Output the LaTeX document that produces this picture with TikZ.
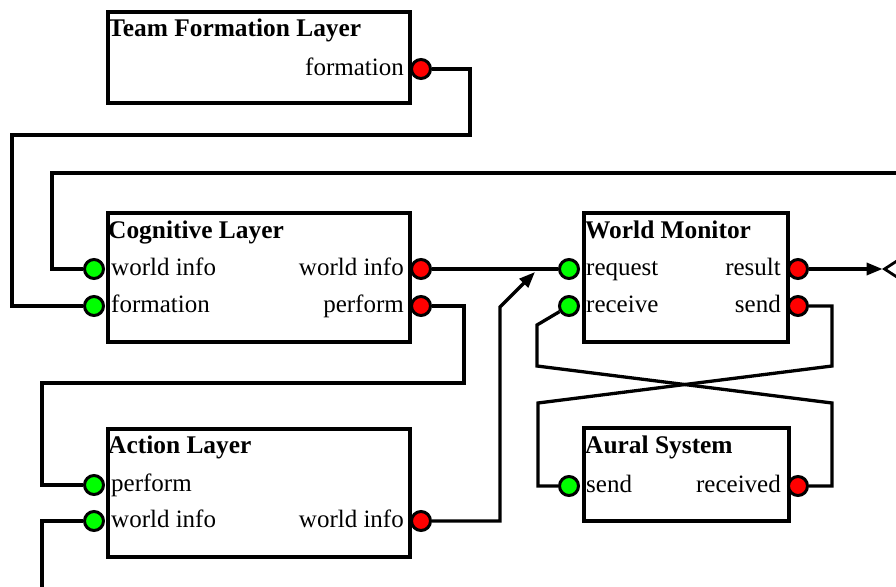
\documentclass[tikz,border=0pt]{standalone}
\usepackage{fontspec}
\setmainfont{Liberation Serif}
\usetikzlibrary{arrows.meta,shapes.geometric}

\tikzset{
  layerbox/.style={draw=black, line width=3.6pt, fill=white, rectangle, inner sep=0pt, anchor=north west},
  boxtitle/.style={inner sep=0pt, anchor=base west, font=\fontsize{25.4}{30}\selectfont\bfseries},
  portlbl/.style={inner sep=0pt, font=\fontsize{25}{30}\selectfont},
  inport/.style={circle, draw=black, line width=3pt, fill={rgb,255:red,0;green,255;blue,0}, minimum size=19pt, inner sep=0pt},
  outport/.style={circle, draw=black, line width=3pt, fill={rgb,255:red,255;green,0;blue,0}, minimum size=19pt, inner sep=0pt},
  wire/.style={draw=black, line width=3.3pt, line join=miter},
  arrowwire/.style={wire, -{Triangle[length=16pt,width=12pt]}},
}

\begin{document}
\begin{tikzpicture}[x=1pt,y=-1pt]
\useasboundingbox (0,0) rectangle (896,586);

% ---- component boxes ----
\node[layerbox, minimum width=302pt, minimum height=91pt]  (tf)    at (106,10)  {};
\node[layerbox, minimum width=302pt, minimum height=129pt] (cog)   at (106,211) {};
\node[layerbox, minimum width=302pt, minimum height=128pt] (act)   at (106,427) {};
\node[layerbox, minimum width=204pt, minimum height=129pt] (wm)    at (582,211) {};
\node[layerbox, minimum width=205pt, minimum height=93pt]  (aural) at (582,426) {};

% ---- titles ----
\node[boxtitle] at ([xshift=2pt,yshift=-27pt]tf.north west)    {Team Formation Layer};
\node[boxtitle] at ([xshift=2pt,yshift=-27pt]cog.north west)   {Cognitive Layer};
\node[boxtitle] at ([xshift=2pt,yshift=-26pt]act.north west)   {Action Layer};
\node[boxtitle] at ([xshift=3pt,yshift=-27pt]wm.north west)    {World Monitor};
\node[boxtitle] at ([xshift=3pt,yshift=-27pt]aural.north west) {Aural System};

% ---- ports ----
\node[outport] (tf-out)     at (421,69)  {};
\node[inport]  (cog-win)    at (94,269)  {};
\node[inport]  (cog-fin)    at (94,306)  {};
\node[outport] (cog-wout)   at (421,269) {};
\node[outport] (cog-perf)   at (421,306) {};
\node[inport]  (act-perf)   at (94,485)  {};
\node[inport]  (act-win)    at (94,521)  {};
\node[outport] (act-wout)   at (421,521) {};
\node[inport]  (wm-req)     at (569,269) {};
\node[inport]  (wm-recv)    at (569,306) {};
\node[outport] (wm-res)     at (798,269) {};
\node[outport] (wm-send)    at (798,306) {};
\node[inport]  (aural-send) at (569,486) {};
\node[outport] (aural-recv) at (798,486) {};

% ---- port labels ----
\node[portlbl, anchor=base east] at ([xshift=-17pt,yshift=-6.5pt]tf-out.center)     {formation};
\node[portlbl, anchor=base west] at ([xshift=17pt,yshift=-6.5pt]cog-win.center)     {world info};
\node[portlbl, anchor=base west] at ([xshift=17pt,yshift=-6.5pt]cog-fin.center)     {formation};
\node[portlbl, anchor=base east] at ([xshift=-17pt,yshift=-6.5pt]cog-wout.center)   {world info};
\node[portlbl, anchor=base east] at ([xshift=-17pt,yshift=-6.5pt]cog-perf.center)   {perform};
\node[portlbl, anchor=base west] at ([xshift=17pt,yshift=-6.5pt]act-perf.center)    {perform};
\node[portlbl, anchor=base west] at ([xshift=17pt,yshift=-6.5pt]act-win.center)     {world info};
\node[portlbl, anchor=base east] at ([xshift=-17pt,yshift=-6.5pt]act-wout.center)   {world info};
\node[portlbl, anchor=base west] at ([xshift=17pt,yshift=-6.5pt]wm-req.center)      {request};
\node[portlbl, anchor=base west] at ([xshift=17pt,yshift=-6.5pt]wm-recv.center)     {receive};
\node[portlbl, anchor=base east] at ([xshift=-17pt,yshift=-6.5pt]wm-res.center)     {result};
\node[portlbl, anchor=base east] at ([xshift=-17pt,yshift=-6.5pt]wm-send.center)    {send};
\node[portlbl, anchor=base west] at ([xshift=17pt,yshift=-6.5pt]aural-send.center)  {send};
\node[portlbl, anchor=base east] at ([xshift=-17pt,yshift=-6.5pt]aural-recv.center) {received};

% ---- external terminals ----
\node[diamond, draw=black, line width=2.8pt, minimum width=30pt, minimum height=20pt, inner sep=0pt] (outterm) at (899,269) {};
\coordinate (feed)   at (900,173);
\coordinate (bottom) at (42,590);
\coordinate (merge)  at (535,272);

% ---- connectors ----
\draw[wire] (tf-out) -| (470,135) -- (12,135) |- (cog-fin);
\draw[wire] (feed) -- (52,173) |- (cog-win);
\draw[wire] (cog-wout) -- (wm-req);
\draw[wire] (cog-perf) -| (464,383) -- (42,383) |- (act-perf);
\draw[wire] (bottom) |- (act-win);
\draw[arrowwire] (act-wout) -| (500,307) -- (merge);
\draw[arrowwire] (wm-res) -- (outterm.west);
\draw[wire] (wm-recv) -- (537,325) -- (537,366) -- (832,403) |- (aural-recv);
\draw[wire] (wm-send) -| (832,366) -- (538,403) |- (aural-send);

\end{tikzpicture}
\end{document}
